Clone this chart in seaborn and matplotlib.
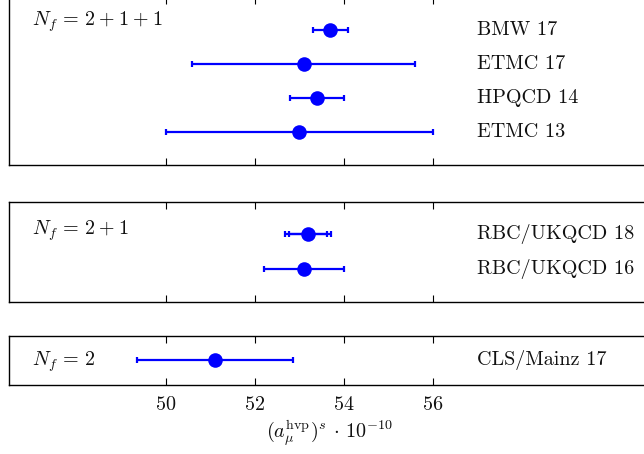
import matplotlib
matplotlib.use("Agg")
import matplotlib.pyplot as plt
import seaborn as sns
import pandas as pd

# Strange-quark contribution to the muon g-2 HVP, grouped by number of flavours
nf211_labels = ["BMW 17", "ETMC 17", "HPQCD 14", "ETMC 13"]
nf211_values = [53.7, 53.1, 53.4, 53.0]
nf211_errors = [0.4, 2.5, 0.6, 3.0]

nf21_labels = ["RBC/UKQCD 18", "RBC/UKQCD 16"]
nf21_values = [53.2, 53.1]
nf21_errors = [0.52, 0.9]
nf21_stat_errors = [0.42, None]

nf2_labels = ["CLS/Mainz 17"]
nf2_values = [51.1]
nf2_errors = [1.75]

xticks = [50, 52, 54, 56]

sns.set_style("white")
plt.rcParams["font.family"] = "serif"
plt.rcParams["font.serif"] = ["cmr10"]
plt.rcParams["mathtext.fontset"] = "cm"
plt.rcParams["axes.unicode_minus"] = False
plt.rcParams["axes.formatter.use_mathtext"] = True
plt.rcParams["text.color"] = "black"
plt.rcParams["axes.labelcolor"] = "black"
plt.rcParams["xtick.color"] = "black"

BLUE = "#0000ff"
FS = 14.5

fig = plt.figure(figsize=(6.44, 4.54), dpi=100)

left = 9 / 644
width = 641 / 644
panels = [
    dict(labels=nf211_labels, values=nf211_values, errors=nf211_errors, stat=None,
         rect=[left, 0.6355, width, 168.5 / 454], ylim=(3.976, -0.97),
         title=r"$N_f\,=\,2\:+\:1\:+\:1$", title_y=-0.25),
    dict(labels=nf21_labels, values=nf21_values, errors=nf21_errors, stat=nf21_stat_errors,
         rect=[left, 0.3359, width, 99.8 / 454], ylim=(1.955, -0.95),
         title=r"$N_f\,=\,2\:+\:1$", title_y=-0.12),
    dict(labels=nf2_labels, values=nf2_values, errors=nf2_errors, stat=None,
         rect=[left, 0.1513, width, 49.8 / 454], ylim=(0.735, -0.73),
         title=r"$N_f\,=\,2$", title_y=0.04),
]

xlim = (46.479, 60.883)

axes = []
for p in panels:
    ax = fig.add_axes(p["rect"])
    axes.append(ax)
    df = pd.DataFrame({"label": p["labels"], "value": p["values"],
                       "err": p["errors"], "row": range(len(p["labels"]))})
    ax.errorbar(df["value"], df["row"], xerr=df["err"], fmt="none",
                ecolor=BLUE, elinewidth=1.6, capsize=2.2, capthick=1.6, zorder=2)
    if p["stat"] is not None:
        for r, (v, s) in enumerate(zip(p["values"], p["stat"])):
            if s is not None:
                ax.errorbar([v], [r], xerr=[s], fmt="none", ecolor=BLUE,
                            elinewidth=1.6, capsize=2.2, capthick=1.6, zorder=2)
    sns.scatterplot(data=df, x="value", y="row", ax=ax, color=BLUE, s=110,
                    edgecolor=BLUE, linewidth=0, zorder=3, legend=False)
    for r, lab in enumerate(p["labels"]):
        ax.text(57.0, r, lab, fontsize=FS, va="center", ha="left", color="#111111")
    ax.text(47.0, p["title_y"], p["title"], fontsize=FS, va="center", ha="left",
            color="#111111")
    ax.set_xlim(*xlim)
    ax.set_ylim(*p["ylim"])
    ax.set_yticks([])
    ax.set_xticks(xticks)
    ax.set_xlabel("")
    ax.set_ylabel("")
    ax.tick_params(axis="x", direction="in", top=True, bottom=True, length=5,
                   width=0.8, color="black", labelcolor="#111111",
                   labelbottom=False, labelsize=FS)
    for side in ["top", "bottom", "left"]:
        ax.spines[side].set_visible(True)
        ax.spines[side].set_color("black")
        ax.spines[side].set_linewidth(1.0)
    ax.spines["right"].set_visible(False)

axes[-1].tick_params(axis="x", labelbottom=True, pad=8)
axes[-1].set_xlabel(r"$(a_\mu^{\rm hvp})^s\,\cdot\,10^{-10}$", fontsize=FS,
                    labelpad=3, color="#111111")

fig.savefig("out.png", dpi=100)
